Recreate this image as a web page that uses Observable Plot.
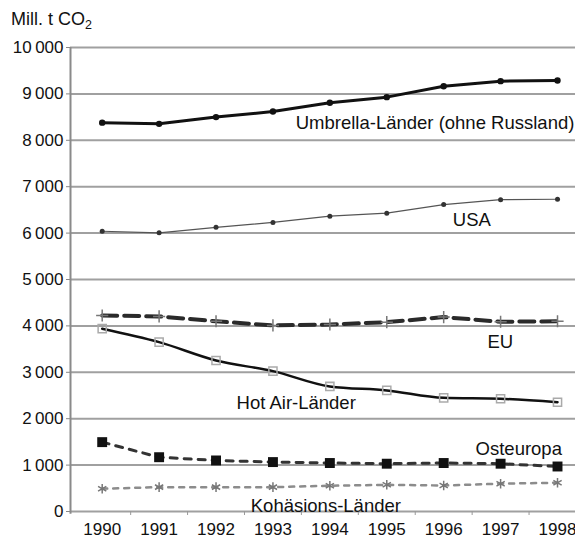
<!DOCTYPE html>
<html>
<head>
<meta charset="utf-8">
<script src="https://cdn.jsdelivr.net/npm/d3@7"></script>
<script src="https://cdn.jsdelivr.net/npm/@observablehq/plot@0.6"></script>
<style>
  body { margin: 0; background: #fff; font-family: "Liberation Sans", Arial, sans-serif; }
  #title { height: 38px; box-sizing: border-box; padding: 9px 0 0 11px; font-size: 18px; line-height: 20px; color: #111; }
  #title sub { font-size: 12.5px; vertical-align: baseline; position: relative; top: 4px; }
</style>
</head>
<body>
<div id="title">Mill. t CO<sub>2</sub></div>
<div id="chart"></div>
<script>
const years = [1990, 1991, 1992, 1993, 1994, 1995, 1996, 1997, 1998];
const umbrella = [8380, 8355, 8500, 8620, 8810, 8930, 9165, 9275, 9290];
const usa = [6040, 6005, 6125, 6230, 6365, 6430, 6615, 6720, 6730];
const eu = [4225, 4205, 4100, 4010, 4030, 4080, 4190, 4090, 4100];
const hotAir = [3940, 3650, 3255, 3025, 2695, 2610, 2450, 2430, 2355];
const osteuropa = [1495, 1170, 1100, 1065, 1045, 1030, 1045, 1030, 970];
const kohaesion = [490, 525, 525, 525, 555, 575, 560, 600, 620];

const yTicks = [0, 1000, 2000, 3000, 4000, 5000, 6000, 7000, 8000, 9000, 10000];
const yTickLabels = ["0", "1\u2009000", "2\u2009000", "3\u2009000", "4\u2009000", "5\u2009000", "6\u2009000", "7\u2009000", "8\u2009000", "9\u2009000", "10\u2009000"];
const xTickLabels = ["1990", "1991", "1992", "1993", "1994", "1995", "1996", "1997", "1998"];
const bandEdges = [1990.5, 1991.5, 1992.5, 1993.5, 1994.5, 1995.5, 1996.5, 1997.5];

// series label annotations (anchor in data coordinates)
const labelNames = ["Umbrella-Länder (ohne Russland)", "USA", "EU", "Hot Air-Länder", "Osteuropa", "Kohäsions-Länder"];
const labelYears = [1993.4, 1996.16, 1996.77, 1992.36, 1996.56, 1992.61];
const labelValues = [8369, 6272, 3649, 2334, 1336, 108];

const toRows = (vals) => years.map((y, i) => ({year: y, value: vals[i]}));
const labels = labelNames.map((t, i) => ({text: t, year: labelYears[i], value: labelValues[i]}));

const chart = Plot.plot({
  width: 575,
  height: 503,
  marginLeft: 70,
  marginRight: 0,
  marginTop: 9,
  marginBottom: 30,
  style: {fontFamily: '"Liberation Sans", Arial, sans-serif', fontSize: "17px", color: "#111", background: "#fff"},
  x: {domain: [1989.443, 1998.316]},
  y: {domain: [0, 10000]},
  marks: [
    Plot.ruleY(yTicks, {stroke: "#a0a0a0", strokeWidth: 2}),
    Plot.ruleX([1989.443], {y1: -60, y2: 10000, stroke: "#8a8a8a", strokeWidth: 2}),
    Plot.axisY({ticks: yTicks, tickFormat: d => yTickLabels[yTicks.indexOf(d)], tickSize: 4, tickPadding: 3, label: null, stroke: "#888", fill: "#111", fontSize: 17}),
    Plot.axisX({ticks: bandEdges, tickFormat: () => "", tickSize: 4, label: null, stroke: "#999"}),
    Plot.axisX({ticks: years, tickFormat: d => xTickLabels[years.indexOf(d)], tickSize: 0, tickPadding: 11, label: null, fill: "#111", fontSize: 17}),

    // Kohäsions-Länder
    Plot.line(toRows(kohaesion), {x: "year", y: "value", stroke: "#8c8c8c", strokeWidth: 2.5, strokeDasharray: "5,6"}),
    Plot.dot(toRows(kohaesion), {x: "year", y: "value", symbol: "asterisk", r: 4.5, stroke: "#777", strokeWidth: 1.5}),

    // Osteuropa
    Plot.line(toRows(osteuropa), {x: "year", y: "value", stroke: "#333", strokeWidth: 3, strokeDasharray: "7,7"}),
    Plot.dot(toRows(osteuropa), {x: "year", y: "value", symbol: "square", r: 5.6, fill: "#111", stroke: "none"}),

    // Hot Air
    Plot.line(toRows(hotAir), {x: "year", y: "value", stroke: "#111", strokeWidth: 2.5, curve: "monotone-x"}),
    Plot.dot(toRows(hotAir), {x: "year", y: "value", symbol: "square", r: 4.6, fill: "none", stroke: "#aaa", strokeWidth: 1.5}),

    // EU
    Plot.line(toRows(eu), {x: "year", y: "value", stroke: "#2a2a2a", strokeWidth: 4, strokeDasharray: "15,7"}),
    Plot.dot(toRows(eu), {x: "year", y: "value", symbol: "plus", r: 4, stroke: "#777", strokeWidth: 1.5}),

    // USA
    Plot.line(toRows(usa), {x: "year", y: "value", stroke: "#555", strokeWidth: 1.2}),
    Plot.dot(toRows(usa), {x: "year", y: "value", r: 2.5, fill: "#333", stroke: "none"}),

    // Umbrella
    Plot.line(toRows(umbrella), {x: "year", y: "value", stroke: "#111", strokeWidth: 3}),
    Plot.dot(toRows(umbrella), {x: "year", y: "value", r: 3.2, fill: "#111", stroke: "none"}),

    Plot.text(labels, {x: "year", y: "value", text: "text", textAnchor: "start", fill: "#111", fontSize: 18.5})
  ]
});
document.getElementById("chart").appendChild(chart);
</script>
</body>
</html>
